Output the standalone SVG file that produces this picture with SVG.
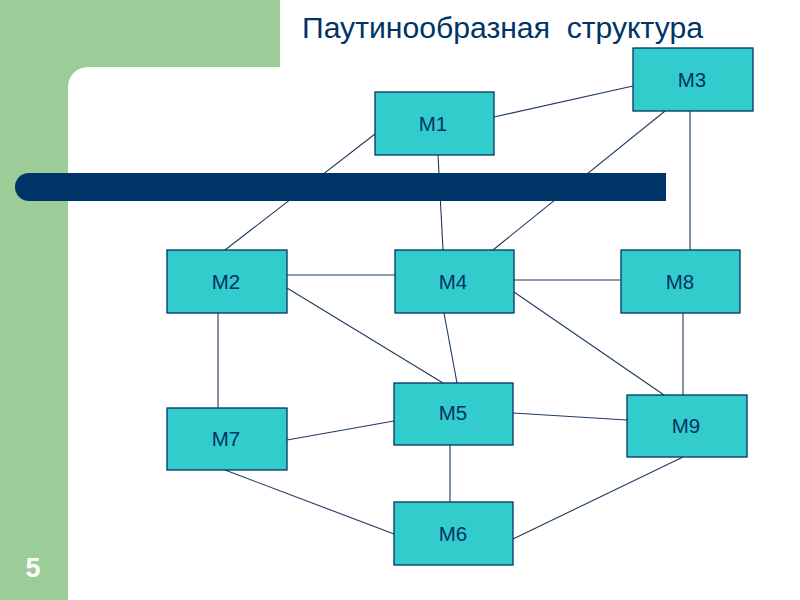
<svg xmlns="http://www.w3.org/2000/svg" width="800" height="600" viewBox="0 0 800 600">
<style>
.node rect{fill:#33CCCC;stroke:#003366;stroke-width:1.3}
.node text{font-family:"Liberation Sans",Arial,sans-serif;font-size:20.5px;fill:#003366;text-anchor:middle}
#connectors line{stroke:#1F3A60;stroke-width:1.1}
</style>
<rect width="800" height="600" fill="#ffffff"/>
<g id="background">
<rect x="0" y="0" width="68" height="600" fill="#9CCC98"/>
<rect x="0" y="0" width="280" height="67" fill="#9CCC98"/>
<path d="M68,67 L88,67 A20,20 0 0 0 68,87 Z" fill="#9CCC98"/>
</g>
<text x="302" y="38" font-family="'Liberation Sans',Arial,sans-serif" font-size="29.5" fill="#003366" textLength="401" lengthAdjust="spacingAndGlyphs" xml:space="preserve">Паутинообразная  структура</text>
<g id="connectors">
<line x1="494" y1="117" x2="633" y2="86"/>
<line x1="375" y1="134" x2="225" y2="250"/>
<line x1="438" y1="155" x2="443" y2="250"/>
<line x1="665" y1="111" x2="493" y2="250"/>
<line x1="690" y1="111" x2="690" y2="250"/>
<line x1="287" y1="275" x2="395" y2="275"/>
<line x1="287" y1="288" x2="443" y2="383"/>
<line x1="218" y1="313" x2="218" y2="408"/>
<line x1="514" y1="280" x2="621" y2="280"/>
<line x1="444" y1="313" x2="457" y2="383"/>
<line x1="514" y1="292" x2="664" y2="395"/>
<line x1="683" y1="313" x2="683" y2="395"/>
<line x1="394" y1="421" x2="287" y2="440"/>
<line x1="513" y1="413" x2="627" y2="420"/>
<line x1="450" y1="445" x2="450" y2="502"/>
<line x1="225" y1="470" x2="394" y2="534"/>
<line x1="513" y1="539" x2="683" y2="457"/>
</g>
<path id="bar" d="M29,173 H666 V201 H29 A14,14 0 0 1 29,173 Z" fill="#003366"/>
<g id="M1" class="node"><rect x="375" y="92" width="119" height="63"/><text x="433" y="131">M1</text></g>
<g id="M3" class="node"><rect x="633" y="48" width="120" height="63"/><text x="692" y="87">M3</text></g>
<g id="M2" class="node"><rect x="167" y="250" width="120" height="63"/><text x="226" y="289">M2</text></g>
<g id="M4" class="node"><rect x="395" y="250" width="119" height="63"/><text x="453" y="289">M4</text></g>
<g id="M8" class="node"><rect x="621" y="250" width="119" height="63"/><text x="680" y="289">M8</text></g>
<g id="M5" class="node"><rect x="394" y="383" width="119" height="62"/><text x="453" y="420">M5</text></g>
<g id="M7" class="node"><rect x="167" y="408" width="120" height="62"/><text x="226" y="446">M7</text></g>
<g id="M9" class="node"><rect x="627" y="395" width="120" height="62"/><text x="686" y="433">M9</text></g>
<g id="M6" class="node"><rect x="394" y="502" width="119" height="63"/><text x="453" y="541">M6</text></g>
<text x="33" y="577" font-family="'Liberation Sans',Arial,sans-serif" font-size="27" font-weight="bold" fill="#ffffff" text-anchor="middle">5</text>
</svg>
